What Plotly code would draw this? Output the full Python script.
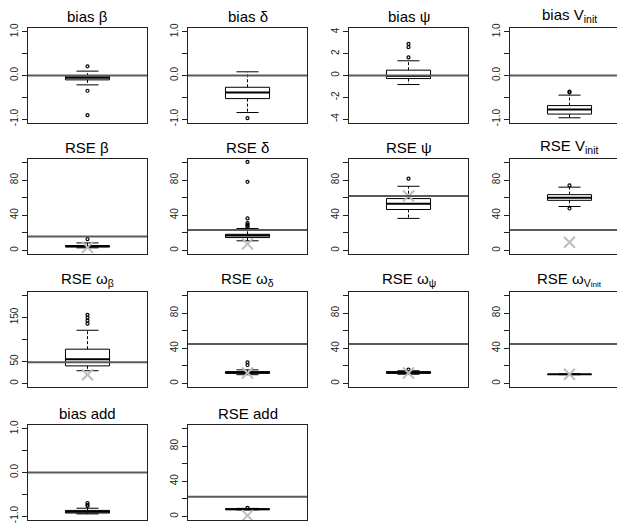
import plotly.graph_objects as go

# ---------------- data ----------------
titles = ["bias β", "bias δ", "bias ψ", "bias V<sub>init</sub>",
          "RSE β", "RSE δ", "RSE ψ", "RSE V<sub>init</sub>",
          "RSE ω<sub>β</sub>", "RSE ω<sub>δ</sub>", "RSE ω<sub>ψ</sub>",
          "RSE ω<sub>V</sub><sub><span style='font-size:8px'>init</span></sub>",
          "bias add", "RSE add"]
scale_kind = ["bias", "bias", "psi", "bias",
              "rse", "rse", "rse", "rse",
              "rse200", "rse", "rse", "rse",
              "bias", "rse"]
whisker_low = [-0.215, -0.85, -0.83, -0.97, 3.0, 11.0, 36.5, 50.0, 29.0, 10.0, 10.5, 10.0, -0.95, 7.5]
q1_vals = [-0.10, -0.53, -0.28, -0.885, 4.0, 14.7, 46.6, 57.0, 40.0, 11.5, 11.5, 10.2, -0.93, 7.8]
median_vals = [-0.05, -0.39, -0.05, -0.78, 4.8, 17.0, 53.0, 60.0, 55.0, 12.5, 12.5, 10.5, -0.90, 8.3]
q3_vals = [-0.015, -0.27, 0.49, -0.69, 5.6, 18.4, 59.0, 63.5, 78.0, 13.5, 13.5, 10.8, -0.87, 8.8]
whisker_high = [0.10, 0.085, 1.35, -0.45, 8.6, 25.0, 73.0, 72.0, 121.0, 15.5, 14.5, 11.0, -0.82, 9.2]
outlier_vals = [[0.21, -0.35, -0.91], [-0.98], [1.66, 2.6, 2.9], [-0.37, -0.39],
                [12.8], [26.5, 28.0, 29.5, 31.0, 36.5, 78.0, 100.7], [81.6], [74.0, 47.7],
                [136, 143, 150, 156], [21.0, 24.0], [15.8], [],
                [-0.70, -0.74, -0.77], [9.8]]
reference_vals = [0, 0, 0, 0, 15.8, 23.3, 62.0, 23.3, 48.0, 45.0, 45.0, 45.0, 0, 22.3]
true_marks = [None, None, None, None, 3.5, 7.5, 62.0, 9.4, 20.0, 12.0, 12.0, 10.5, None, 1.0]

scales = {
    "bias": dict(range=[-1.09, 1.09], vals=[-1, -0.5, 0, 0.5, 1], text=["-1.0", "", "0.0", "", "1.0"]),
    "psi": dict(range=[-4.36, 4.36], vals=[-4, -2, 0, 2, 4], text=["-4", "-2", "0", "2", "4"]),
    "rse": dict(range=[-4, 104], vals=[0, 20, 40, 60, 80, 100], text=["0", "", "40", "", "80", ""]),
    "rse200": dict(range=[-8, 208], vals=[0, 50, 100, 150, 200], text=["0", "50", "", "150", ""]),
}

# ---------------- layout geometry (pixels; page body has an 8px offset) ----------------
W, H = 617, 519
col_left = [20, 180, 341, 502]
row_top = [20, 151, 284, 417]
panel_w, panel_h = 119, 95
XR = [0.46, 1.54]
BOX_HALF, CAP_HALF = 0.2, 0.1

fig = go.Figure()
layout = dict(width=W, height=H, margin=dict(l=0, r=0, t=0, b=0, pad=0), autosize=False,
              template="none",
              paper_bgcolor="white", plot_bgcolor="white", showlegend=False,
              font=dict(family="Liberation Sans, Arial, sans-serif", color="black"))
annotations, shapes = [], []
FRAME = "#222222"

for i in range(len(titles)):
    r, c = divmod(i, 4)
    n = "" if i == 0 else str(i + 1)
    xa, ya = "x" + n, "y" + n
    left = col_left[c]
    right = left + panel_w
    xr = list(XR)
    if right > W:  # last column is clipped at the page edge
        xr[1] = XR[0] + (XR[1] - XR[0]) * (W - left) / panel_w
        right = W
    top, bot = row_top[r], row_top[r] + panel_h
    sc = scales[scale_kind[i]]
    layout["xaxis" + n] = dict(domain=[left / W, right / W], range=xr, anchor=ya,
                               showticklabels=False, ticks="", showgrid=False, zeroline=False,
                               showline=True, linecolor=FRAME, linewidth=1, mirror=True,
                               fixedrange=True, automargin=False)
    layout["yaxis" + n] = dict(domain=[1 - bot / H, 1 - top / H], range=sc["range"], anchor=xa,
                               tickvals=sc["vals"], ticktext=sc["text"], tickangle=-90,
                               ticks="outside", ticklen=5, tickcolor=FRAME, tickwidth=1,
                               tickfont=dict(size=10, color="#222"),
                               showgrid=False, zeroline=False,
                               showline=True, linecolor=FRAME, linewidth=1,
                               mirror=(right < W), fixedrange=True, automargin=False)
    cx = 1.0
    # box
    fig.add_trace(go.Scatter(x=[cx - BOX_HALF, cx + BOX_HALF, cx + BOX_HALF, cx - BOX_HALF, cx - BOX_HALF],
                             y=[q1_vals[i], q1_vals[i], q3_vals[i], q3_vals[i], q1_vals[i]],
                             mode="lines", fill="toself", fillcolor="white",
                             line=dict(color="black", width=1), xaxis=xa, yaxis=ya, hoverinfo="skip"))
    # whiskers (dashed)
    fig.add_trace(go.Scatter(x=[cx, cx, None, cx, cx],
                             y=[q3_vals[i], whisker_high[i], None, q1_vals[i], whisker_low[i]],
                             mode="lines", line=dict(color="black", width=1, dash="3px,2px"),
                             xaxis=xa, yaxis=ya, hoverinfo="skip"))
    # staples
    fig.add_trace(go.Scatter(x=[cx - CAP_HALF, cx + CAP_HALF, None, cx - CAP_HALF, cx + CAP_HALF],
                             y=[whisker_high[i], whisker_high[i], None, whisker_low[i], whisker_low[i]],
                             mode="lines", line=dict(color="black", width=1),
                             xaxis=xa, yaxis=ya, hoverinfo="skip"))
    # median
    fig.add_trace(go.Scatter(x=[cx - BOX_HALF, cx + BOX_HALF], y=[median_vals[i], median_vals[i]],
                             mode="lines", line=dict(color="black", width=2),
                             xaxis=xa, yaxis=ya, hoverinfo="skip"))
    # outliers
    if outlier_vals[i]:
        fig.add_trace(go.Scatter(x=[cx] * len(outlier_vals[i]), y=outlier_vals[i], mode="markers",
                                 marker=dict(symbol="circle-open", size=3, color="black",
                                             line=dict(width=1.2, color="black")),
                                 xaxis=xa, yaxis=ya, hoverinfo="skip"))
    # reference line
    shapes.append(dict(type="line", xref=xa + " domain", yref=ya, x0=0, x1=1,
                       y0=reference_vals[i], y1=reference_vals[i],
                       line=dict(color="#5a5a5a", width=2)))
    # true value marker
    if true_marks[i] is not None:
        fig.add_trace(go.Scatter(x=[cx], y=[true_marks[i]], mode="markers",
                                 marker=dict(symbol="x-thin-open", size=11, color="#bdbdbd",
                                             line=dict(width=2, color="#bdbdbd")),
                                 xaxis=xa, yaxis=ya, hoverinfo="skip"))
    # title
    centre = (left + panel_w / 2) / W
    annotations.append(dict(text=titles[i], x=centre, y=1 - top / H, xref="paper", yref="paper",
                            xanchor="center", yanchor="bottom", yshift=1, showarrow=False,
                            font=dict(size=15, color="black", weight="normal")))

layout["annotations"] = annotations
layout["shapes"] = shapes
fig.update_layout(**layout)
fig.write_html("out.html")
